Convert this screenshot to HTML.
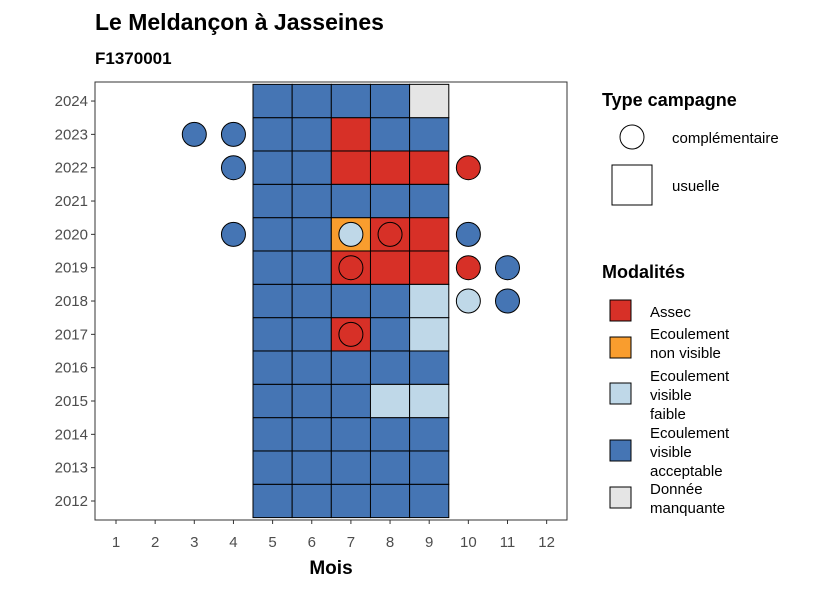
<!DOCTYPE html>
<html><head><meta charset="utf-8"><style>
body{margin:0;background:#fff;}
svg{font-family:"Liberation Sans",sans-serif;display:block}
</style></head><body>
<svg id="chart" width="826" height="590">
<text x="95" y="30" font-size="23" font-weight="bold">Le Meldançon à Jasseines</text>
<text x="95" y="64" font-size="17" font-weight="bold">F1370001</text>
<g id="plot"></g>
<text x="331" y="574" font-size="19" font-weight="bold" text-anchor="middle">Mois</text>
<g>
<text x="602" y="106" font-size="18" font-weight="bold">Type campagne</text>
<circle cx="632" cy="137" r="12" fill="#fff" stroke="#000" stroke-width="1"/>
<text x="672" y="143" font-size="15">complémentaire</text>
<rect x="612" y="165" width="40" height="40" fill="#fff" stroke="#000"/>
<text x="672" y="191" font-size="15">usuelle</text>
</g>
<g id="legend2">
<text x="602" y="278" font-size="18" font-weight="bold">Modalités</text>
</g>
</svg>
<script>
const months=[5,6,7,8,9];
const years=[2012,2013,2014,2015,2016,2017,2018,2019,2020,2021,2022,2023,2024];
// usual tiles: per year, months 5..9 ; A=Assec O=non visible F=faible V=acceptable M=manquante
const usual={2024:"VVVVM",2023:"VVAVV",2022:"VVAAA",2021:"VVVVV",2020:"VVOAA",2019:"VVAAA",2018:"VVVVF",2017:"VVAVF",2016:"VVVVV",2015:"VVVFF",2014:"VVVVV",2013:"VVVVV",2012:"VVVVV"};
const compYears=[2023,2023,2022,2022,2020,2020,2020,2020,2019,2019,2019,2018,2018,2017];
const compMonths=[3,4,4,10,4,7,8,10,7,10,11,10,11,7];
const compVals=["V","V","V","A","V","F","A","V","A","A","V","F","V","A"];
const colors={A:"#D73027",O:"#F99D2E",F:"#BFD8E8",V:"#4575B4",M:"#E5E5E5"};
const legKeys=["A","O","F","V","M"];
const legLabels=[["Assec"],["Ecoulement","non visible"],["Ecoulement","visible","faible"],["Ecoulement","visible","acceptable"],["Donnée","manquante"]];
const NS="http://www.w3.org/2000/svg";
const X0=95,X1=567,Y0=82,Y1=520;
const bw=(X1-X0)/12.05, bh=(Y1-Y0)/13.15;
const xs=m=>116+(m-1)*39.15;
const ys=y=>501-(y-2012)*33.33;
function mk(t,a,p){const e=document.createElementNS(NS,t);for(const k in a)e.setAttribute(k,a[k]);p.appendChild(e);return e;}
const g=document.getElementById('plot');
const panel=mk('rect',{x:X0,y:Y0,width:X1-X0,height:Y1-Y0,fill:'#fff',stroke:'none'},g);


years.forEach(y=>{
  const s=usual[y];
  months.forEach((m,i)=>{
    const r=mk('rect',{x:xs(m)-19.6,y:ys(y)-16.7,width:39.2,height:33.3,fill:colors[s[i]],stroke:'#000','stroke-width':1},g);
    
    
  });
});
compYears.forEach((y,i)=>{
  const c=mk('circle',{cx:xs(compMonths[i]),cy:ys(y),r:12,fill:colors[compVals[i]],stroke:'#000','stroke-width':1},g);
  
  
});
const border=mk('rect',{x:X0,y:Y0,width:X1-X0,height:Y1-Y0,fill:'none',stroke:'#333','stroke-width':1},g);


years.forEach(y=>{
  mk('line',{x1:X0-4,x2:X0,y1:ys(y),y2:ys(y),stroke:'#333'},g);
  const t=mk('text',{x:X0-7,y:ys(y)+5,'font-size':15,fill:'#4d4d4d','text-anchor':'end'},g);
  t.textContent=y;
  
  
});
for(let m=1;m<=12;m++){
  mk('line',{x1:xs(m),x2:xs(m),y1:Y1,y2:Y1+4,stroke:'#333'},g);
  const t=mk('text',{x:xs(m),y:547,'font-size':15,fill:'#4d4d4d','text-anchor':'middle'},g);
  t.textContent=m;
  
  
}
const lg=document.getElementById('legend2');
const keyY=[300,337,383,440,487];
const textY=[317,339,381,438,494];
legKeys.forEach((k,i)=>{
  const r=mk('rect',{x:610,y:keyY[i],width:21,height:21,fill:colors[k],stroke:'#000','stroke-width':1},lg);
  
  
  legLabels[i].forEach((l,j)=>{
    const t=mk('text',{x:650,y:textY[i]+j*19,'font-size':15},lg);
    t.textContent=l;
    
    
  });
});
</script>
</body></html>
